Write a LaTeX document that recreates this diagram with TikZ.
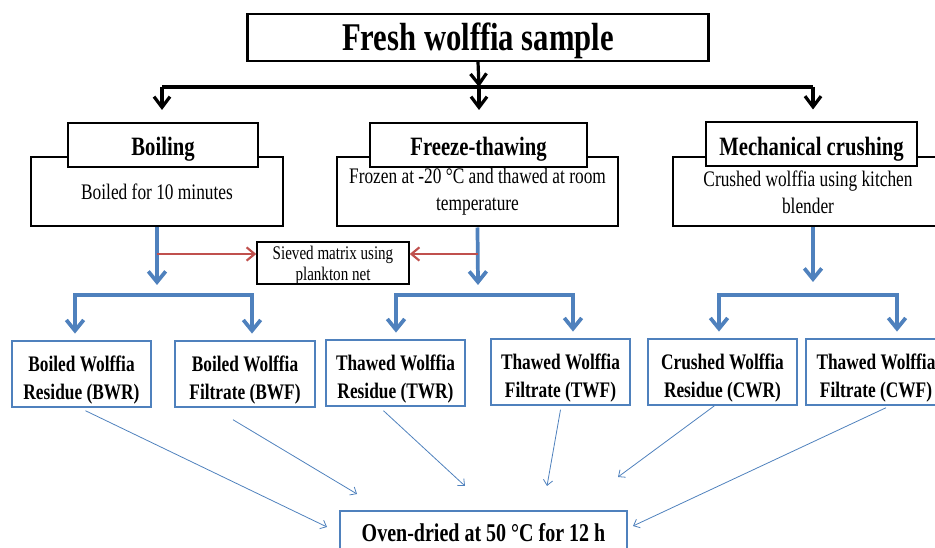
\documentclass[tikz,border=0pt]{standalone}
\usepackage{fontspec}
\setmainfont{Liberation Serif}
\usetikzlibrary{arrows.meta, calc}
\definecolor{flowblue}{RGB}{79, 129, 189}
\definecolor{sievered}{RGB}{192, 80, 77}
\newlength{\tlift}
\newcommand{\tallt}[1]{\raisebox{-\tlift}[\height][\depth]{\scalebox{1}[1.28]{#1}}}
\tikzset{
    titlebox/.style={draw, line width=1.8pt, fill=white, minimum width=346pt,
                minimum height=35pt, inner sep=0pt,
                font=\fontsize{23}{26}\selectfont\bfseries\setlength{\tlift}{2.5pt}},
    headbox/.style={draw, line width=1.5pt, fill=white, minimum width=#1,
                minimum height=33pt, inner sep=0pt,
                font=\fontsize{15.5}{18}\selectfont\bfseries\setlength{\tlift}{3.5pt}},
    bodybox/.style={draw, line width=1.5pt, fill=white, minimum width=#1,
                minimum height=51.75pt, inner sep=0pt, align=center,
                font=\fontsize{13}{20}\selectfont\setlength{\tlift}{0pt}},
    sievebox/.style={draw, line width=1.1pt, fill=white, minimum width=114pt,
                minimum height=31.5pt, inner sep=0pt, align=center,
                font=\fontsize{11.3}{15.5}\selectfont\setlength{\tlift}{2pt}},
    resbox/.style={draw=flowblue, line width=1.6pt, fill=white, minimum width=#1,
                minimum height=49pt, inner sep=0pt, align=center,
                font=\fontsize{13}{21}\selectfont\bfseries\setlength{\tlift}{4.5pt}},
    ovenbox/.style={draw=flowblue, line width=1.6pt, fill=white, minimum width=215pt,
                minimum height=33pt, inner sep=0pt,
                font=\fontsize{15}{18}\selectfont\bfseries\setlength{\tlift}{0pt}},
    blkarr/.style={-{Straight Barb[length=8pt, width=12pt]}, line width=2.4pt},
    blkline/.style={line width=3.4pt},
    bluearr/.style={-{Straight Barb[length=8pt, width=13pt]}, line width=2.8pt, flowblue},
    bluebrk/.style={{Straight Barb[length=8pt, width=13pt]}-{Straight Barb[length=8pt, width=13pt]},
                line width=2.8pt, flowblue, shorten <=5pt, shorten >=5pt},
    redarr/.style={-{Straight Barb[length=6pt, width=10pt]}, line width=1.6pt, sievered},
    thinarr/.style={-{Straight Barb[length=4pt, width=7pt]}, line width=0.6pt, flowblue},
}

\begin{document}
\begin{tikzpicture}[x=0.75pt, y=-0.75pt]

    \useasboundingbox (0, 0) rectangle (935, 548);
    \clip (0, 0) rectangle (935, 548);

    \node[titlebox] (top) at (478, 37.5) {\tallt{Fresh wolffia sample}};

    \node[bodybox=189pt] (boilb) at (157, 191.5) {\tallt{Boiled for 10 minutes}};
    \node[headbox=142.5pt] (boilh) at (163, 145) {\tallt{Boiling}};
    \node[bodybox=210.75pt] (frzb) at (477.5, 192) {\tallt{Frozen at -20 °C and thawed at room}\\\tallt{temperature}};
    \node[headbox=162.75pt] (frzh) at (478.5, 145) {\tallt{Freeze-thawing}};
    \node[bodybox=202.5pt] (mechb) at (808, 192) {\tallt{Crushed wolffia using kitchen}\\\tallt{blender}};
    \node[headbox=158.25pt] (mechh) at (811.5, 144.5) {\tallt{Mechanical crushing}};

    \node[sievebox] (sieve) at (333, 263) {\tallt{Sieved matrix using}\\\tallt{plankton net}};

    \node[resbox=104.25pt] (bwr) at (81.5, 374) {\tallt{Boiled Wolffia}\\\tallt{Residue (BWR)}};
    \node[resbox=105pt] (bwf) at (245, 374) {\tallt{Boiled Wolffia}\\\tallt{Filtrate (BWF)}};
    \node[resbox=104.25pt] (twr) at (395.5, 373) {\tallt{Thawed Wolffia}\\\tallt{Residue (TWR)}};
    \node[resbox=104.25pt] (twf) at (560.5, 372) {\tallt{Thawed Wolffia}\\\tallt{Filtrate (TWF)}};
    \node[resbox=111.75pt] (cwr) at (722.5, 372) {\tallt{Crushed Wolffia}\\\tallt{Residue (CWR)}};
    \node[resbox=105pt] (cwf) at (876, 372) {\tallt{Thawed Wolffia}\\\tallt{Filtrate (CWF)}};

    \node[ovenbox] (oven) at (483.5, 533) {\tallt{Oven-dried at 50 °C for 12 h}};

    \coordinate (jl) at (162, 87);
    \coordinate (jc) at (479, 87);
    \coordinate (jr) at (813, 87);
    \draw[blkarr] (top.south) -- (jc);
    \draw[blkline] (jl) -- (jr);
    \draw[blkarr, shorten >=9pt] (jl) -- (jl |- boilh.north);
    \draw[blkarr, shorten >=9pt] (jc) -- (jc |- frzh.north);
    \draw[blkarr, shorten >=9pt] (jr) -- (jr |- mechh.north);

    \coordinate (b1) at (157, 285);
    \coordinate (b2) at (478, 285);
    \coordinate (b3) at (813, 282);
    \draw[bluearr] (boilb.south) -- (b1);
    \draw[bluearr] (frzb.south) -- (b2);
    \draw[bluearr] ($(mechb.south)+(5, 0)$) -- (b3);

    \coordinate (r1) at (157, 254);
    \coordinate (r2) at (478, 254);
    \draw[redarr] (r1) -- (sieve.west |- r1);
    \draw[redarr] (r2) -- (sieve.east |- r2);

    \coordinate (k1) at (75, 295);
    \coordinate (k2) at (252, 295);
    \coordinate (k3) at (396, 295);
    \coordinate (k4) at (573, 295);
    \coordinate (k5) at (719, 295);
    \coordinate (k6) at (897, 295);
    \draw[bluebrk] (k1 |- bwr.north) -- (k1) -- (k2) -- (k2 |- bwf.north);
    \draw[bluebrk] (k3 |- twr.north) -- (k3) -- (k4) -- (k4 |- twf.north);
    \draw[bluebrk] (k5 |- cwr.north) -- (k5) -- (k6) -- (k6 |- cwf.north);

    \coordinate (o1) at (327, 527);
    \coordinate (o2) at (357, 494);
    \coordinate (o3) at (465, 486);
    \coordinate (o4) at (547, 486);
    \coordinate (o5) at (618, 477);
    \coordinate (o6) at (633, 526);
    \draw[thinarr] ($(bwr.south)+(4, 3)$) -- (o1);
    \draw[thinarr] ($(bwf.south)+(-12, 12)$) -- (o2);
    \draw[thinarr] ($(twr.south)+(-12, 4)$) -- (o3);
    \draw[thinarr] ($(twf.south)+(0, 4)$) -- (o4);
    \draw[thinarr] ($(cwr.south)+(-8, 0)$) -- (o5);
    \draw[thinarr] ($(cwf.south)+(10, 2)$) -- (o6);

\end{tikzpicture}
\end{document}
